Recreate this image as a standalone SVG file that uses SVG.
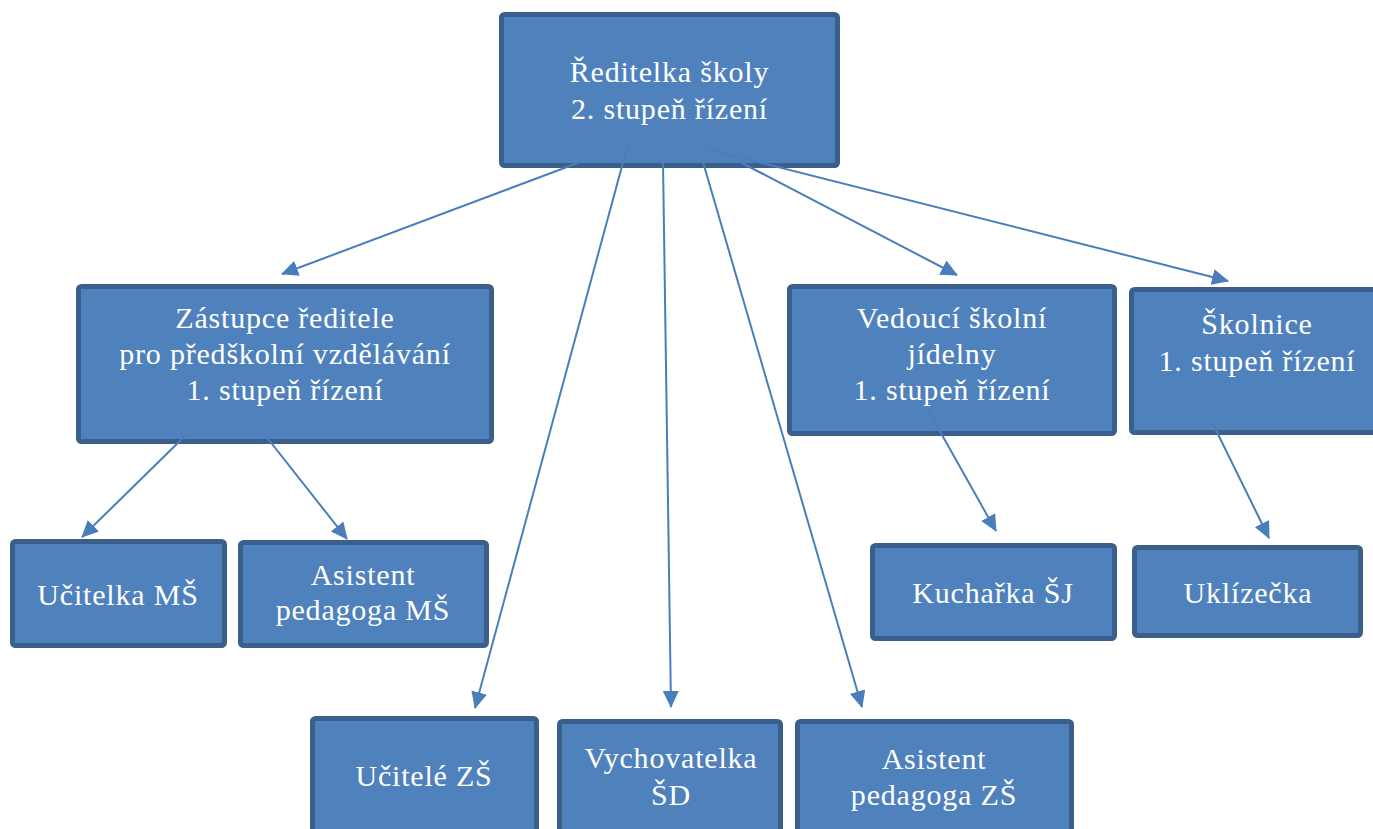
<svg xmlns="http://www.w3.org/2000/svg" width="1373" height="829" viewBox="0 0 1373 829">
<defs>
<style>
.box{fill:#4f81bd;stroke:#3a5f8b;stroke-width:5}
.t{font-family:"Liberation Serif","Times New Roman",serif;font-size:30px;letter-spacing:0.8px;fill:#ffffff;text-anchor:middle}
.c{stroke:#4a7ebb;stroke-width:2;fill:none;marker-end:url(#ah)}
</style>
<marker id="ah" markerUnits="userSpaceOnUse" viewBox="0 0 17 16" markerWidth="17" markerHeight="16" refX="16" refY="8" orient="auto">
<path d="M0,0 L17,8 L0,16 z" fill="#4a7ebb"/>
</marker>
</defs>
<rect width="1373" height="829" fill="#ffffff"/>
<g id="n-reditelka"><rect class="box" x="501.5" y="14.5" width="336" height="151" rx="3"/>
<text class="t" x="669.5" y="82">Ředitelka školy</text><text class="t" x="669.5" y="119">2. stupeň řízení</text></g>
<g id="n-zastupce"><rect class="box" x="78.5" y="286.5" width="413" height="155" rx="3"/>
<text class="t" x="285" y="328">Zástupce ředitele</text><text class="t" x="285" y="364">pro předškolní vzdělávání</text><text class="t" x="285" y="400">1. stupeň řízení</text></g>
<g id="n-vedouci"><rect class="box" x="789.5" y="286.5" width="325" height="147" rx="3"/>
<text class="t" x="952" y="328">Vedoucí školní</text><text class="t" x="952" y="364">jídelny</text><text class="t" x="952" y="400">1. stupeň řízení</text></g>
<g id="n-skolnice"><rect class="box" x="1131.5" y="289.5" width="250" height="143" rx="3"/>
<text class="t" x="1257" y="334">Školnice</text><text class="t" x="1257" y="371">1. stupeň řízení</text></g>
<g id="n-ucitelka-ms"><rect class="box" x="12.5" y="541.5" width="212" height="104" rx="3"/>
<text class="t" x="118" y="605">Učitelka MŠ</text></g>
<g id="n-asistent-ms"><rect class="box" x="240.5" y="542.5" width="246" height="103" rx="3"/>
<text class="t" x="363" y="585">Asistent</text><text class="t" x="363" y="620">pedagoga MŠ</text></g>
<g id="n-kucharka"><rect class="box" x="872.5" y="545.5" width="242" height="93" rx="3"/>
<text class="t" x="993" y="603">Kuchařka ŠJ</text></g>
<g id="n-uklizecka"><rect class="box" x="1134.5" y="547.5" width="226" height="88" rx="3"/>
<text class="t" x="1248" y="603">Uklízečka</text></g>
<g id="n-ucitele-zs"><rect class="box" x="312.5" y="718.5" width="224" height="125" rx="3"/>
<text class="t" x="424" y="786">Učitelé ZŠ</text></g>
<g id="n-vychovatelka"><rect class="box" x="559.5" y="721.5" width="221" height="125" rx="3"/>
<text class="t" x="671" y="768">Vychovatelka</text><text class="t" x="671" y="805">ŠD</text></g>
<g id="n-asistent-zs"><rect class="box" x="797.5" y="721.5" width="274" height="125" rx="3"/>
<text class="t" x="934" y="769">Asistent</text><text class="t" x="934" y="805">pedagoga ZŠ</text></g>
<g id="connectors">
<line class="c" x1="583" y1="161" x2="282" y2="274"/>
<line class="c" x1="628" y1="144" x2="475" y2="708"/>
<line class="c" x1="663" y1="162" x2="671" y2="707"/>
<line class="c" x1="703" y1="162" x2="862" y2="707"/>
<line class="c" x1="740" y1="162" x2="957" y2="275"/>
<line class="c" x1="703" y1="148" x2="1228" y2="281"/>
<line class="c" x1="187" y1="434" x2="82" y2="537"/>
<line class="c" x1="265" y1="435" x2="347" y2="539"/>
<line class="c" x1="928" y1="410" x2="996" y2="531"/>
<line class="c" x1="1212" y1="422" x2="1269" y2="538"/>
</g>
</svg>
